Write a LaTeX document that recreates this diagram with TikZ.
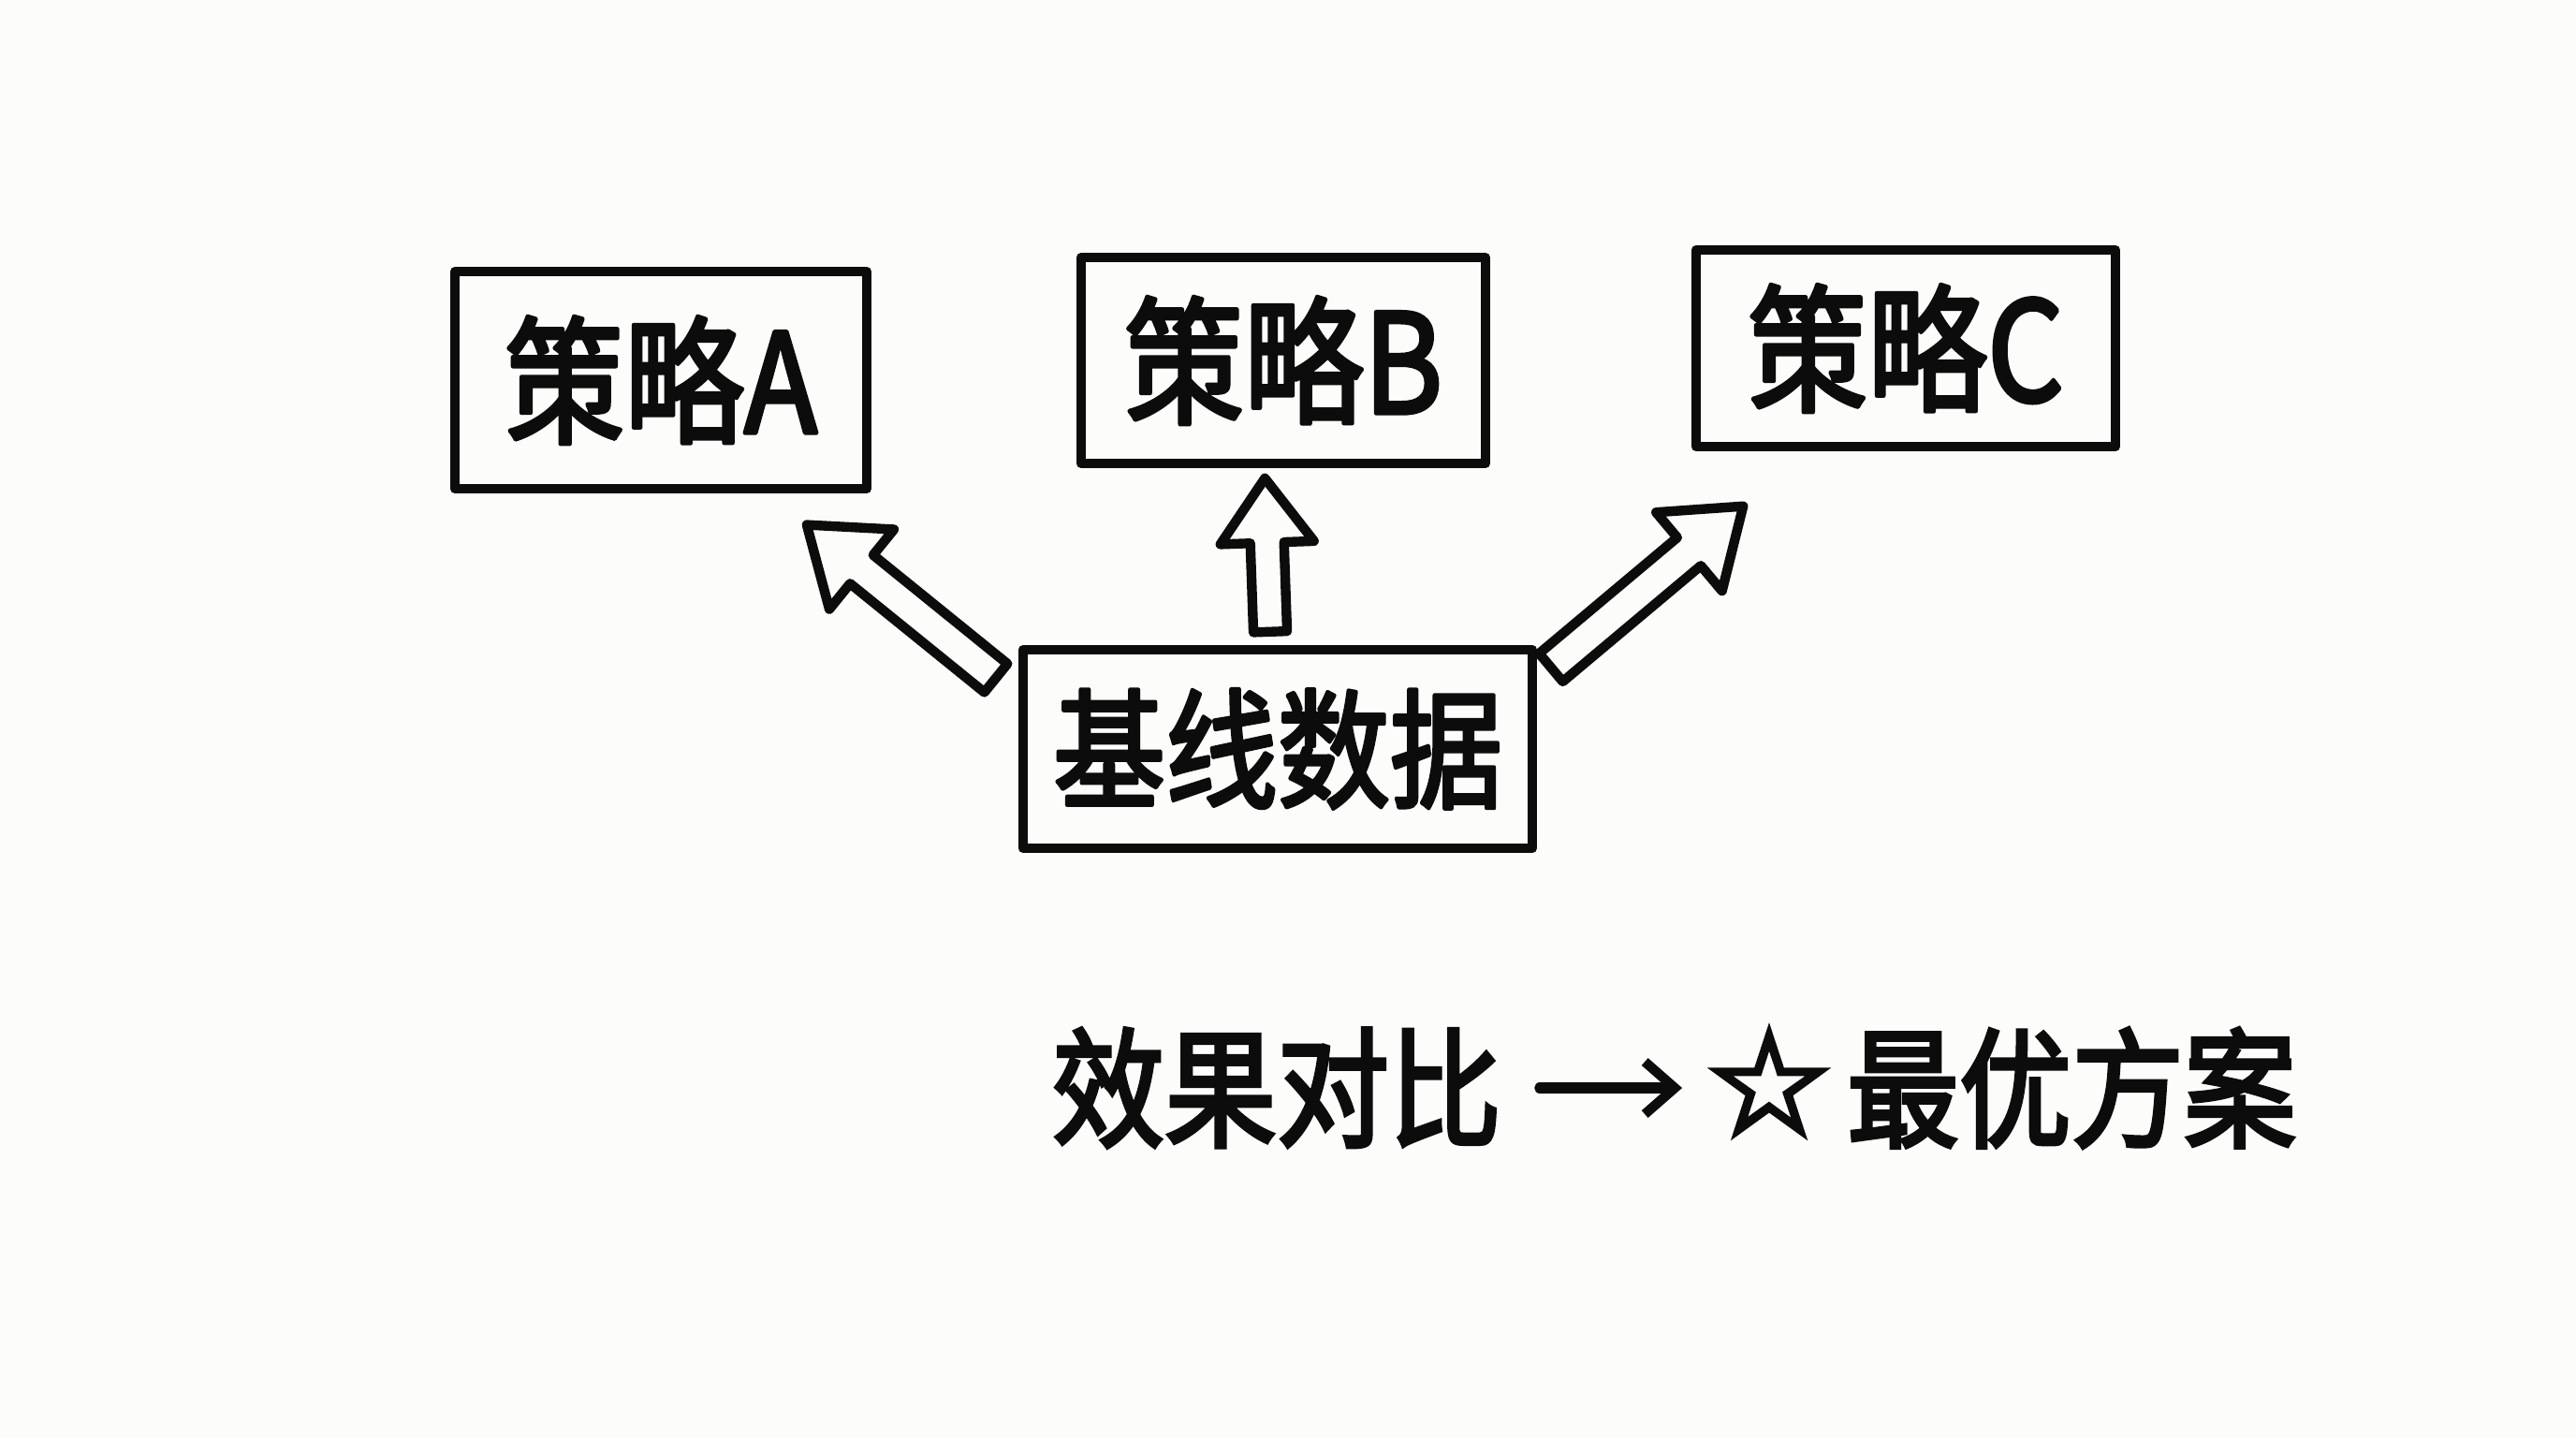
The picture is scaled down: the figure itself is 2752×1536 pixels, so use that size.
\documentclass[tikz,border=0pt]{standalone}
\usepackage{fontspec}
\setmainfont{Noto Sans CJK SC}[FakeBold=3.2]
\newfontfamily\symfont{DejaVu Sans}[FakeBold=3.5]
\usetikzlibrary{shapes.arrows,arrows.meta}
\definecolor{paper}{RGB}{252,252,250}
\definecolor{ink}{RGB}{12,12,12}
\newcommand{\talltxt}[1]{\scalebox{1}[1.15]{#1}}
\begin{document}
\begin{tikzpicture}[x=0.25pt,y=-0.25pt,
  box/.style={draw=ink, line width=2.6pt, line join=round, line cap=round, inner sep=0pt},
  boxtxt/.style={font=\fontsize{32}{36}\selectfont, text=ink},
  basetxt/.style={font=\fontsize{30}{34}\selectfont, text=ink},
  plain/.style={font=\fontsize{30}{34}\selectfont, text=ink, inner sep=0pt},
  blk/.style={single arrow, draw=ink, fill=paper, line width=2.6pt, line join=round,
    inner xsep=0pt, single arrow tip angle=72, anchor=tip},
]
\fill[paper] (0,0) rectangle (2752,1536);
\useasboundingbox (0,0) rectangle (2752,1536);

% strategy boxes
\node[box, boxtxt, minimum width=110pt, minimum height=58pt] (A) at (706,406) {\talltxt{策略A}};
\node[box, boxtxt, minimum width=108pt, minimum height=55pt] (B) at (1371,385) {\talltxt{策略B}};
\node[box, boxtxt, minimum width=112pt, minimum height=52.5pt] (C) at (2036,372) {\talltxt{策略C}};

% baseline box
\node[box, basetxt, minimum width=136pt, minimum height=53pt] (base) at (1365,800) {\talltxt{基线数据}};

% block arrows (placed by their tips)
\node[blk, inner ysep=3.6pt, single arrow head extend=8.8pt, minimum height=65pt, rotate=141] (arA) at (855,555) {};
\node[blk, inner ysep=3.2pt, single arrow head extend=8pt, minimum height=41pt, rotate=92] (arB) at (1351,502) {};
\node[blk, inner ysep=3.6pt, single arrow head extend=8.8pt, minimum height=67pt, rotate=40] (arC) at (1869,535) {};

% bottom line
\node[plain] (cmp) at (1364,1162) {\talltxt{效果对比}};
\node[font=\symfont\fontsize{38}{40}\selectfont, text=ink, inner sep=0pt] (star) at (1890,1156) {☆};
\node[plain] (best) at (2213,1162) {\talltxt{最优方案}};
\draw[ink, line width=2.8pt, line cap=round,
  -{Straight Barb[length=8pt, width=14pt, line width=2.6pt]},
  shorten <=10pt, shorten >=6pt] (cmp.east) -- (cmp.east -| star.west);
\end{tikzpicture}
\end{document}
